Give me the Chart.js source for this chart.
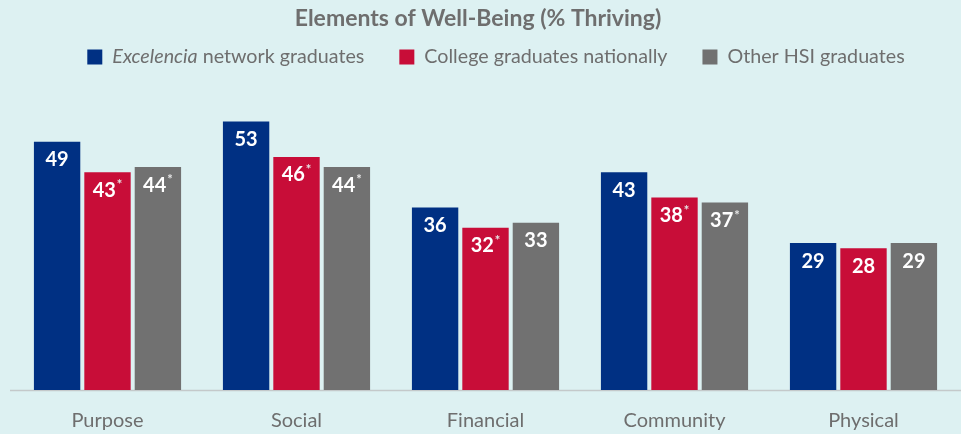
<!DOCTYPE html>
<html>
<head>
<meta charset="utf-8">
<script src="https://cdn.jsdelivr.net/npm/chart.js@4"></script>
<style>
  html, body { margin: 0; padding: 0; background: #ddf1f2; }
  #wrap { width: 961px; height: 434px; }
</style>
</head>
<body>
<div id="wrap"><canvas id="wellBeing" width="961" height="434"></canvas></div>
<script>
// Elements of Well-Being (% Thriving)
const categories = ['Purpose', 'Social', 'Financial', 'Community', 'Physical'];
const excelencia = [49, 53, 36, 43, 29];
const national = [43, 46, 32, 38, 28];
const otherHsi = [44, 44, 33, 37, 29];
// significant difference markers (*)
const nationalStar = [true, true, true, true, false];
const otherHsiStar = [true, true, false, true, false];

const BLUE = '#003083';
const RED = '#c80d38';
const GREY = '#717171';
const TEXT = '#6e6e6e';
const FONT = 'Lato, "Open Sans", sans-serif';

// title + legend drawn on canvas (legend needs the italic "Excelencia")
const headerPlugin = {
  id: 'header',
  afterDraw(chart) {
    const ctx = chart.ctx;
    ctx.save();
    ctx.fillStyle = TEXT;
    ctx.textBaseline = 'middle';
    ctx.textAlign = 'center';
    ctx.font = 'bold 23px ' + FONT;
    ctx.fillText('Elements of Well-Being (% Thriving)', 478, 19);

    const items = [
      { color: BLUE, parts: [['italic 19.7px ' + FONT, 'Excelencia'], ['19.7px ' + FONT, ' network graduates']] },
      { color: RED, parts: [['19.7px ' + FONT, 'College graduates nationally']] },
      { color: GREY, parts: [['19.7px ' + FONT, 'Other HSI graduates']] }
    ];
    const box = 15, boxGap = 10, itemGap = 35;
    let total = 0;
    items.forEach(it => {
      it.textW = 0;
      it.parts.forEach(p => { ctx.font = p[0]; it.textW += ctx.measureText(p[1]).width; });
      total += box + boxGap + it.textW;
    });
    total += itemGap * (items.length - 1);
    let x = 496 - total / 2;
    const y = 57;
    ctx.textAlign = 'left';
    items.forEach(it => {
      ctx.fillStyle = it.color;
      ctx.fillRect(x, y - box / 2, box, box);
      x += box + boxGap;
      ctx.fillStyle = TEXT;
      it.parts.forEach(p => {
        ctx.font = p[0];
        ctx.fillText(p[1], x, y);
        x += ctx.measureText(p[1]).width;
      });
      x += itemGap;
    });
    ctx.restore();
  }
};

// baseline rule under the bars
const baselinePlugin = {
  id: 'baseline',
  beforeDatasetsDraw(chart) {
    const ctx = chart.ctx;
    const y = chart.chartArea.bottom + 0.5;
    ctx.save();
    ctx.strokeStyle = '#c4c9ca';
    ctx.lineWidth = 1.5;
    ctx.beginPath();
    ctx.moveTo(10, y);
    ctx.lineTo(chart.width, y);
    ctx.stroke();
    ctx.restore();
  }
};

// white value labels inside the top of each bar, with optional asterisk
const valuePlugin = {
  id: 'values',
  afterDatasetsDraw(chart) {
    const ctx = chart.ctx;
    ctx.save();
    ctx.fillStyle = '#ffffff';
    ctx.textBaseline = 'middle';
    chart.data.datasets.forEach((ds, di) => {
      const meta = chart.getDatasetMeta(di);
      meta.data.forEach((bar, i) => {
        const txt = String(ds.data[i]);
        const star = ds.stars ? ds.stars[i] : false;
        ctx.font = 'bold 20px ' + FONT;
        const tw = ctx.measureText(txt).width;
        ctx.font = 'bold 13px ' + FONT;
        const sw = star ? ctx.measureText('*').width + 1 : 0;
        const left = bar.x - (tw + sw) / 2;
        const cy = bar.y + 18;
        ctx.textAlign = 'left';
        ctx.font = 'bold 20px ' + FONT;
        ctx.fillText(txt, left, cy);
        if (star) {
          ctx.fillStyle = '#e6e6e6';
          ctx.font = 'bold 13px ' + FONT;
          ctx.fillText('*', left + tw + 1, cy - 5);
          ctx.fillStyle = '#ffffff';
        }
      });
    });
    ctx.restore();
  }
};

new Chart(document.getElementById('wellBeing'), {
  type: 'bar',
  data: {
    labels: categories,
    datasets: [
      { label: 'Excelencia network graduates', data: excelencia, backgroundColor: BLUE },
      { label: 'College graduates nationally', data: national, backgroundColor: RED, stars: nationalStar },
      { label: 'Other HSI graduates', data: otherHsi, backgroundColor: GREY, stars: otherHsiStar }
    ]
  },
  options: {
    responsive: false,
    animation: false,
    layout: { padding: { left: 13, right: 3, top: 86, bottom: 0 } },
    datasets: { bar: { categoryPercentage: 0.8, barPercentage: 0.92 } },
    plugins: {
      legend: { display: false },
      title: { display: false },
      tooltip: { enabled: false }
    },
    scales: {
      x: {
        grid: { display: false },
        border: { display: false },
        ticks: { color: TEXT, font: { family: FONT, size: 20 }, padding: 11 },
        afterFit(scale) { scale.height = 44; }
      },
      y: {
        display: false,
        min: 0,
        max: 60
      }
    }
  },
  plugins: [headerPlugin, baselinePlugin, valuePlugin]
});
</script>
</body>
</html>
